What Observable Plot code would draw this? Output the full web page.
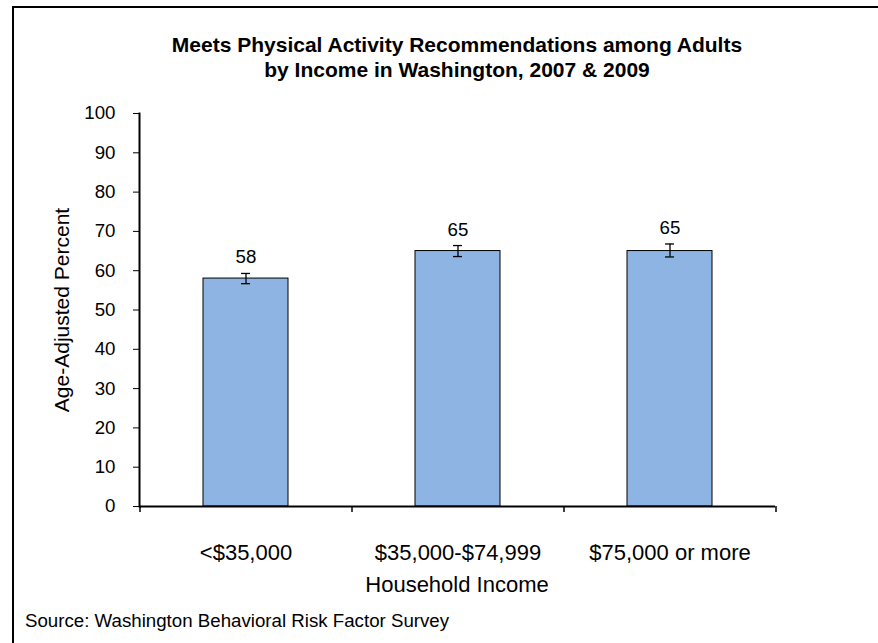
<!DOCTYPE html>
<html>
<head>
<meta charset="utf-8">
<script src="https://cdn.jsdelivr.net/npm/d3@7"></script>
<script src="https://cdn.jsdelivr.net/npm/@observablehq/plot@0.6"></script>
<style>
  html, body { margin: 0; padding: 0; background: #fff; }
  #wrap { position: relative; width: 878px; height: 643px; overflow: hidden; font-family: "Liberation Sans", Arial, sans-serif; }
  #frame { position: absolute; left: 12px; top: 6px; width: 900px; height: 700px; border-left: 2px solid #000; border-top: 2px solid #000; box-sizing: border-box; }
  #title { position: absolute; left: 0; width: 914px; top: 32px; text-align: center; font-weight: bold; font-size: 21px; line-height: 25px; color: #000; }
  #ylabel { position: absolute; left: 62px; top: 310px; transform: translate(-50%, -50%) rotate(-90deg); font-size: 21px; white-space: nowrap; }
  #xlabel { position: absolute; left: 457px; top: 585px; transform: translate(-50%, -50%); font-size: 22px; white-space: nowrap; }
  #source { position: absolute; left: 25px; top: 612px; font-size: 18.7px; line-height: 1; white-space: nowrap; }
  #chart { position: absolute; left: 0; top: 0; }
</style>
</head>
<body>
<div id="wrap">
  <div id="frame"></div>
  <div id="chart"></div>
  <div id="title">Meets Physical Activity Recommendations among Adults<br>by Income in Washington, 2007 &amp; 2009</div>
  <div id="ylabel">Age-Adjusted Percent</div>
  <div id="xlabel">Household Income</div>
  <div id="source">Source: Washington Behavioral Risk Factor Survey</div>
</div>
<script>
const categories = ["<$35,000", "$35,000-$74,999", "$75,000 or more"];
const values = [58, 65, 65];
const lower = [56.7, 63.6, 63.5];
const upper = [59.3, 66.4, 66.8];
const yTicks = [0, 10, 20, 30, 40, 50, 60, 70, 80, 90, 100];

const data = categories.map((c, i) => ({cat: c, value: values[i], lo: lower[i], hi: upper[i]}));

const W = 878, H = 643;
const mL = 139, mR = 103, mT = 113, mB = 137;
const step = (W - mL - mR) / categories.length;

const chart = Plot.plot({
  width: W,
  height: H,
  marginLeft: mL,
  marginRight: mR,
  marginTop: mT,
  marginBottom: mB,
  style: {fontFamily: "'Liberation Sans', Arial, sans-serif", color: "#000", background: "transparent"},
  x: {domain: categories, paddingInner: 0.6, paddingOuter: 0.3},
  y: {domain: [0, 100]},
  marks: [
    Plot.barY(data, {x: "cat", y: "value", fill: "#8EB4E3", stroke: "#000", strokeWidth: 1}),
    Plot.ruleX(data, {x: "cat", y1: "lo", y2: "hi", stroke: "#000", strokeWidth: 1.3}),
    Plot.tickY(data, {x: "cat", y: "lo", insetLeft: 38, insetRight: 38, stroke: "#000", strokeWidth: 1.3}),
    Plot.tickY(data, {x: "cat", y: "hi", insetLeft: 38, insetRight: 38, stroke: "#000", strokeWidth: 1.3}),
    Plot.text(data, {x: "cat", y: "hi", text: d => String(d.value), dy: -10, lineAnchor: "bottom", fontSize: 18.7, fill: "#000"}),
    Plot.ruleY([0], {stroke: "#000", strokeWidth: 2}),
    Plot.frame({anchor: "left", stroke: "#000", strokeWidth: 2}),
    Plot.ruleX(categories, {x: d => d, y1: 0, y2: -1.5, dx: -step / 2, stroke: "#000", strokeWidth: 1.5}),
    Plot.ruleX(categories.slice(-1), {x: d => d, y1: 0, y2: -1.5, dx: step / 2, stroke: "#000", strokeWidth: 1.5}),
    Plot.axisY({ticks: yTicks, tickSize: 6, tickPadding: 18, fontSize: 18.7, label: null, tickFormat: d => String(d)}),
    Plot.axisX({tickSize: 0, tickPadding: 38, fontSize: 22, label: null})
  ]
});
document.getElementById("chart").appendChild(chart);
</script>
</body>
</html>
